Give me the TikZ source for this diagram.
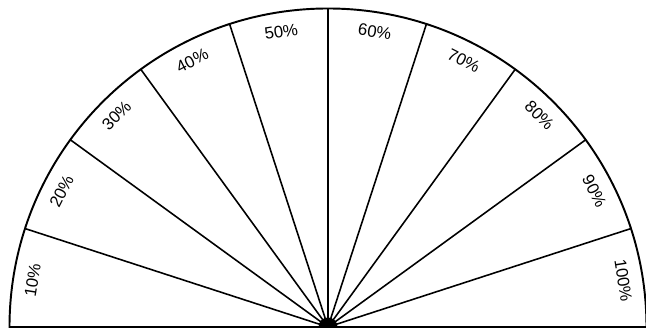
\documentclass[tikz,border=0pt]{standalone}
\usepackage{fontspec}
\setmainfont{Liberation Sans}
\tikzset{
  rim/.style={line width=1.1pt},
  ray/.style={line width=0.9pt},
  pct/.style={font=\fontsize{9.5}{11}\selectfont, inner sep=0pt}
}
\begin{document}
\begin{tikzpicture}
  \useasboundingbox (0,0) rectangle (12.92,6.62);
  \coordinate (c) at (6.56,0.08);
  % half disc with its base line
  \draw[rim] (c) ++(-6.37,0) arc[start angle=180,end angle=0,radius=6.37] -- cycle;
  % dividing rays, one every 18 degrees
  \foreach \a [count=\i] in {18,36,...,162}
    \draw[ray] (c) -- ++(\a:6.37) coordinate (r\i);
  % blob at the centre
  \fill (c) ++(0.19,0) arc[start angle=0,end angle=180,radius=0.19] -- cycle;
  % percentage labels
  \foreach \p [count=\i, evaluate=\i as \ang using 189-18*\i,
               evaluate=\i as \rot using 99-18*\i] in {10,20,...,100}
    \path (c) ++(\ang:5.98) node[pct, rotate=\rot] (lab\i) {\p\%};
\end{tikzpicture}
\end{document}
